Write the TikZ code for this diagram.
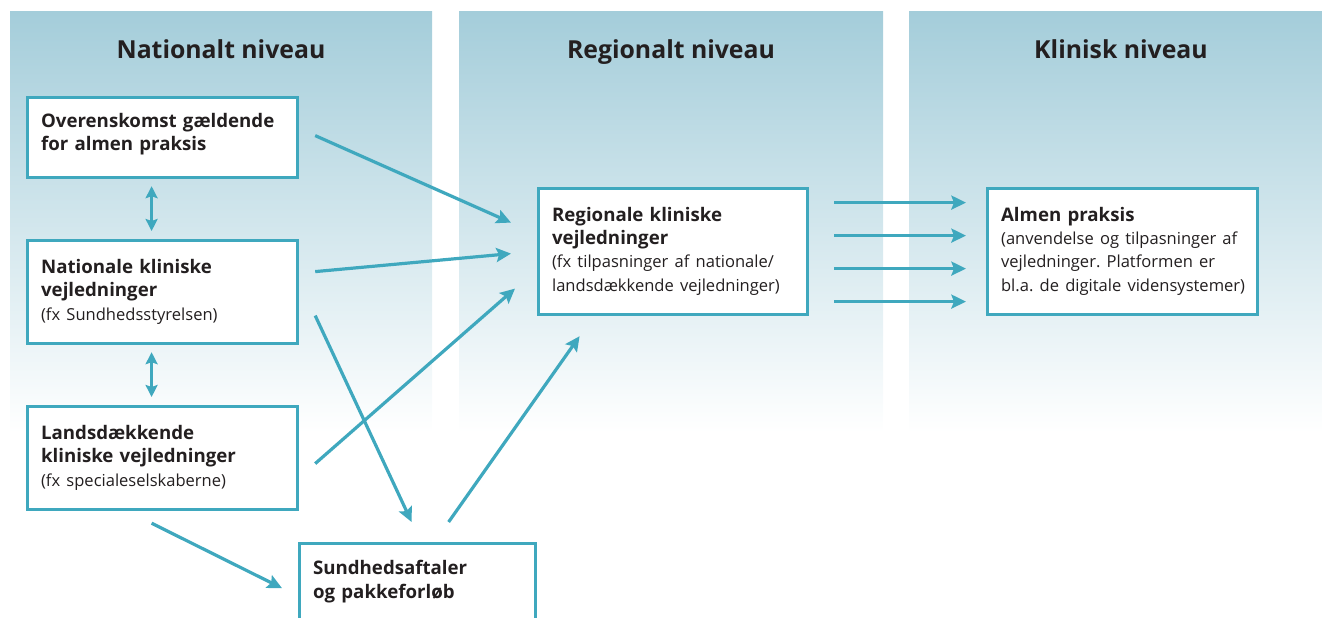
\documentclass[tikz,border=0pt]{standalone}
\usepackage{fontspec}
\setmainfont{Open Sans}
\usetikzlibrary{arrows.meta}
\frenchspacing
\definecolor{tealline}{HTML}{3FA8BE}
\definecolor{coltop}{HTML}{A4CDDA}
\definecolor{ink}{HTML}{231F20}
\tikzset{
  box/.style={draw=tealline, line width=2.4pt, fill=white, anchor=north west,
    inner xsep=10.5pt, inner ysep=0pt, align=left, text=ink,
    font=\fontsize{14}{17.6}\selectfont},
  coltitle/.style={text=ink, anchor=base, font=\fontsize{18.6}{22}\selectfont\bfseries},
  arr/.style={draw=tealline, line width=2.4pt,
    -{Stealth[length=11pt,width=10.5pt,inset=2pt]}},
  dblarr/.style={draw=tealline, line width=2.4pt,
    {Stealth[length=9pt,width=9pt,inset=1.5pt]}-{Stealth[length=9pt,width=9pt,inset=1.5pt]}}
}
\newcommand{\sub}[1]{\mbox{\fontsize{12.4}{17}\selectfont\mdseries #1}}
\begin{document}
\begin{tikzpicture}[x=0.75pt,y=-0.75pt]
  \useasboundingbox (0,0) rectangle (1322,618);
  % column backgrounds
  \shade[top color=coltop, bottom color=white] (10,11) rectangle (432,433);
  \shade[top color=coltop, bottom color=white] (459,11) rectangle (883,433);
  \shade[top color=coltop, bottom color=white] (909,11) rectangle (1333,433);
  \node[coltitle] (tnat) at (221,58) {Nationalt niveau};
  \node[coltitle] (treg) at (671,58) {Regionalt niveau};
  \node[coltitle] (tkli) at (1121,58) {Klinisk niveau};

  % boxes
  \node[box, text width=181.5pt, minimum height=60pt] (overens) at (25.5,95.5)
    {\bfseries Overenskomst gældende\\ \bfseries for almen praksis\\[-10pt]\mbox{}};
  \node[box, text width=181.5pt, minimum height=77.25pt] (national) at (25.5,238.5)
    {\bfseries Nationale kliniske\\ \bfseries vejledninger\\ \sub{(fx Sundhedsstyrelsen)}};
  \node[box, text width=181.5pt, minimum height=77.25pt] (landsd) at (25.5,404.5)
    {\bfseries Landsdækkende\\ \bfseries kliniske vejledninger\\ \sub{(fx specialeselskaberne)}};
  \node[box, text width=156pt, minimum height=62.25pt] (sundh) at (297.5,541.5)
    {\bfseries Sundhedsaftaler\\ \bfseries og pakkeforløb\\[-10pt]\mbox{}};
  \node[box, text width=180.75pt, minimum height=94.5pt] (regional) at (536.5,186.5)
    {\bfseries Regionale kliniske\\ \bfseries vejledninger\\ \sub{(fx tilpasninger af nationale/}\\ \sub{landsdækkende vejledninger)}};
  \node[box, text width=181.5pt, minimum height=94.5pt] (almen) at (985.5,186.5)
    {\bfseries Almen praksis\\ \sub{(anvendelse og tilpasninger af}\\ \sub{vejledninger. Platformen er}\\ \sub{bl.a. de digitale vidensystemer)}};

  % connectors
  \draw[dblarr] ([shift={(-10.5,7.5)}]overens.south) -- ([shift={(-10.5,-7.5)}]national.north);
  \draw[dblarr] ([shift={(-10.5,7.5)}]national.south) -- ([shift={(-10.5,-7.5)}]landsd.north);
  \draw[arr] ([shift={(16.5,-1.5)}]overens.east) -- ([shift={(-25.5,-28.5)}]regional.west);
  \draw[arr] ([shift={(16.5,-20)}]national.east) -- ([shift={(-25.5,2.5)}]regional.west);
  \draw[arr] ([shift={(16.5,24)}]national.east) -- ([shift={(-5.5,-19.5)}]sundh.north);
  \draw[arr] ([shift={(16.5,6)}]landsd.east) -- ([shift={(-21.5,37.5)}]regional.west);
  \draw[arr] ([shift={(-10.5,12.5)}]landsd.south) -- ([shift={(-15.5,3.5)}]sundh.west);
  \draw[arr] ([shift={(31.5,-19.5)}]sundh.north) -- ([shift={(-93,20.5)}]regional.south);
  \foreach \dy in {-48.5,-15.5,17.5,50.5}
    \draw[arr] ([shift={(25.5,\dy)}]regional.east) -- ([shift={(-19.5,\dy)}]almen.west);
\end{tikzpicture}
\end{document}
